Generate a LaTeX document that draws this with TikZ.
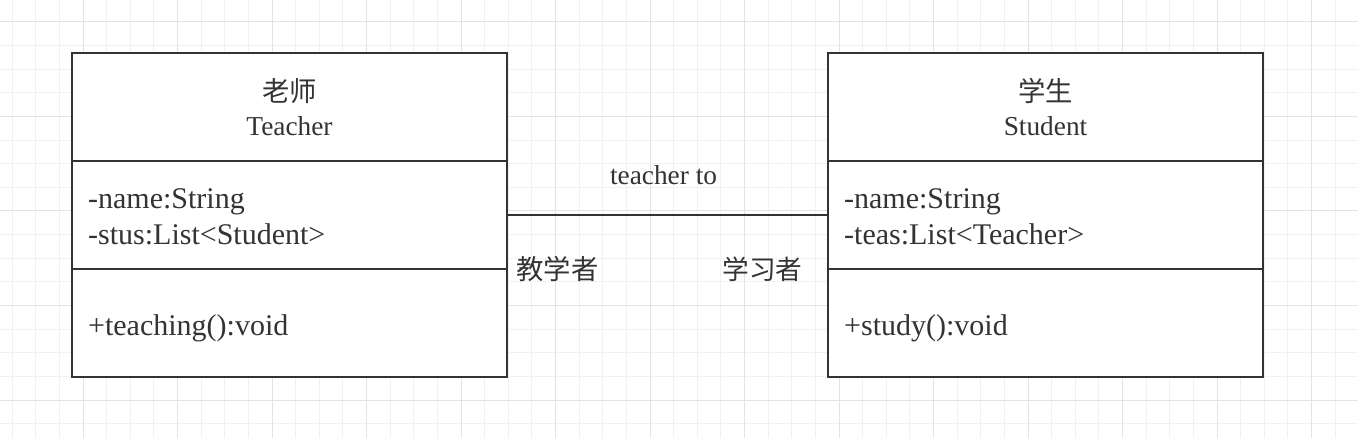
\documentclass[tikz,border=0pt]{standalone}
\usepackage{fontspec}
\setmainfont{Liberation Serif}
\newfontfamily\cjk{Noto Sans CJK SC}
\usetikzlibrary{
positioning
}
\definecolor{rahmen}{HTML}{333333}
\definecolor{rasterhell}{HTML}{F1F1F1}
\definecolor{rasterdunkel}{HTML}{E3E3E3}

\tikzset{
klassekopf/.style={draw=rahmen, line width=1.5pt, fill=white, outer sep=0pt, inner xsep=12pt, inner ysep=0pt,
  minimum height=81pt, text width=302pt, align=center, text=rahmen, font=\fontsize{20.5}{25.5}\selectfont},
klasseteil/.style={klassekopf, align=left, font=\fontsize{22.5}{27}\selectfont},
rolle/.style={inner sep=0pt, text=rahmen, font=\fontsize{20.5}{25}\selectfont},
verbindung/.style={draw=rahmen, line width=1.5pt}
}

\begin{document}
\begin{tikzpicture}[x=0.75pt, y=-0.75pt]
\useasboundingbox (0,0) rectangle (1358,438);
\fill[white] (0,0) rectangle (1358,438);

\foreach \x in {0,...,56} %raster senkrecht
{   \draw[rasterhell, line width=0.75pt] ({12.125+\x*23.625},0) -- ({12.125+\x*23.625},438);
}
\foreach \y in {0,...,17} %raster waagrecht
{   \draw[rasterhell, line width=0.75pt] (0,{22+\y*23.625}) -- (1358,{22+\y*23.625});
}
\foreach \x in {0,...,13}
{   \draw[rasterdunkel, line width=0.75pt] ({83+\x*94.5},0) -- ({83+\x*94.5},438);
}
\foreach \y in {0,...,4}
{   \draw[rasterdunkel, line width=0.75pt] (0,{22+\y*94.5}) -- (1358,{22+\y*94.5});
}

%klasse links
\node[klassekopf] (tkopf) at (289.5,107) {{\cjk 老师}\\Teacher};
\node[klasseteil, below=0pt of tkopf, text height=18pt] (tattr) {-name:String\\-stus:List<Student>};
\node[klasseteil, below=0pt of tattr, text height=23pt] (tmeth) {+teaching():void};

%klasse rechts
\node[klassekopf] (skopf) at (1045.5,107) {{\cjk 学生}\\Student};
\node[klasseteil, below=0pt of skopf, text height=18pt] (sattr) {-name:String\\-teas:List<Teacher>};
\node[klasseteil, below=0pt of sattr, text height=23pt] (smeth) {+study():void};

%assoziation
\draw[verbindung] (tattr.east) -- node[rolle, anchor=base, yshift=23pt, xshift=-3pt]{teacher to} (sattr.west)
node[rolle, pos=0, anchor=base west, xshift=6.5pt, yshift=-48pt]{\cjk 教学者}
node[rolle, pos=1, anchor=base east, xshift=-18.5pt, yshift=-48pt, font=\fontsize{20}{25}\selectfont]{\cjk 学习者};
\end{tikzpicture}
\end{document}
